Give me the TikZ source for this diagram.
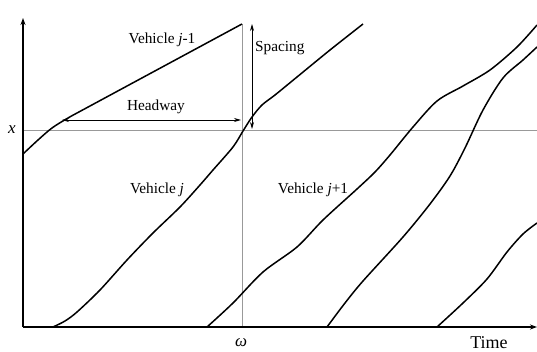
\documentclass[tikz,border=0pt]{standalone}
\usepackage{fontspec}
\setmainfont{Liberation Serif}
\usetikzlibrary{arrows.meta}
\begin{document}
\begin{tikzpicture}[x=1pt,y=-1pt,
  traj/.style={line width=1.5pt,black,line join=round},
  axis/.style={line width=1.2pt,black,-{Stealth[length=7pt,width=5pt]}},
  guide/.style={line width=0.7pt,gray!80},
  dim/.style={line width=0.7pt,black,{Stealth[length=7pt,width=4pt]}-{Stealth[length=7pt,width=4pt]}},
  lbl/.style={font=\fontsize{15.3}{17}\selectfont,inner sep=0pt}]
\useasboundingbox (0,0) rectangle (537,352);
% coordinates
\coordinate (O) at (23,327);
\coordinate (ytop) at (23,18);
\coordinate (xend) at (537,327);
\coordinate (hx0) at (23,130);
\coordinate (hx1) at (537,130);
\coordinate (w0) at (242,24);
\coordinate (w1) at (242,327);
% guides
\draw[guide] (hx0) -- (hx1);
\draw[guide] (w0) -- (w1);
% axes
\draw[axis] (O) -- (ytop);
\draw[axis] (O) -- (xend);
% trajectories
\draw[traj] plot[smooth,tension=0.5] coordinates {(23,154) (38,140) (52,128) (68,118) (90,106) (242,24)};
\draw[traj] plot[smooth,tension=0.5] coordinates {(53,327) (65,321) (77,312) (100,290) (127,260) (153,233) (180,207) (200,185) (213,170) (233,147) (243,131) (252,117) (262,105) (275,95) (297,77) (330,50) (363,24)};
\draw[traj] plot[smooth,tension=0.5] coordinates {(207,327) (233,303) (263,272) (297,247) (323,220) (357,189) (375,172) (390,155) (413,127) (437,101) (463,86) (490,70) (517,47) (537,25)};
\draw[traj] plot[smooth,tension=0.5] coordinates {(327,327) (345,303) (363,281) (403,237) (430,204) (450,176) (465,148) (483,110) (503,78) (523,60) (537,47)};
\draw[traj] plot[smooth,tension=0.5] coordinates {(437,327) (463,303) (487,279) (507,252) (523,234) (537,223)};
% headway & spacing
\coordinate (ha) at (62,120);
\coordinate (hb) at (241,120);
\draw[dim] (ha) -- (hb);
\coordinate (sa) at (252,24);
\coordinate (sb) at (252,129);
\draw[dim] (sb) -- (sa);
% labels
\node[lbl] (l1) at (162,40) {Vehicle \textit{j}-1};
\node[lbl] (l2) at (156,107) {Headway};
\node[lbl,anchor=west] (l3) at (255,48) {Spacing};
\node[lbl] (l4) at (157,190) {Vehicle \textit{j}};
\node[lbl] (l5) at (313,190) {Vehicle \textit{j}+1};
\node[lbl,font=\fontsize{17}{19}\selectfont] (lx) at (12,130) {\textit{x}};
\node[lbl,font=\fontsize{17}{19}\selectfont] (lw) at (241,343) {\textit{ω}};
\node[lbl,font=\fontsize{18}{20}\selectfont] (lt) at (489,343) {Time};
\end{tikzpicture}
\end{document}
